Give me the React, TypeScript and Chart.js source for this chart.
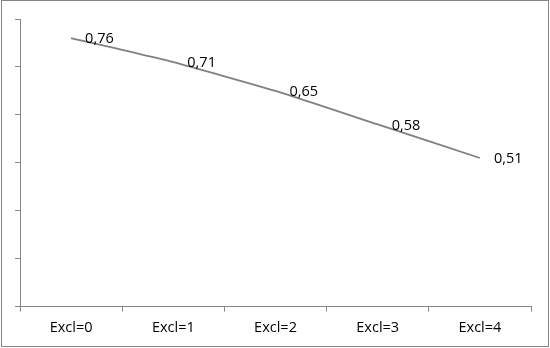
import React, { useEffect, useRef } from "react";
import { Chart, registerables } from "chart.js";

Chart.register(...registerables);

const categories = ["Excl=0", "Excl=1", "Excl=2", "Excl=3", "Excl=4"];
const values = [0.76, 0.71, 0.65, 0.58, 0.51];
const valueLabels = ["0,76", "0,71", "0,65", "0,58", "0,51"];
const yMin = 0.2;
const yMax = 0.8;
const yStep = 0.1;

const FONT = "'Open Sans', 'Noto Sans', sans-serif";

const labelPlugin = {
  id: "valueLabels",
  afterDatasetsDraw(chart: any) {
    const ctx = chart.ctx;
    const meta = chart.getDatasetMeta(0);
    ctx.save();
    ctx.font = `14.5px ${FONT}`;
    ctx.fillStyle = "#000000";
    ctx.textAlign = "left";
    ctx.textBaseline = "middle";
    meta.data.forEach((pt: any, i: number) => {
      ctx.fillText(valueLabels[i], pt.x + 14, pt.y + 1);
    });
    ctx.restore();
  },
};

export default function App() {
  const ref = useRef<HTMLCanvasElement | null>(null);
  useEffect(() => {
    if (!ref.current) return;
    const chart = new Chart(ref.current, {
      type: "line",
      data: {
        labels: categories,
        datasets: [
          {
            data: values,
            borderColor: "#808080",
            borderWidth: 1.8,
            pointRadius: 0,
            tension: 0.15,
            fill: false,
          },
        ],
      },
      options: {
        animation: false,
        responsive: false,
        maintainAspectRatio: false,
        layout: { padding: { left: 15, right: 19, top: 19, bottom: 3 } },
        plugins: { legend: { display: false }, tooltip: { enabled: false } },
        scales: {
          x: {
            type: "category",
            offset: true,
            grid: {
              offset: true,
              drawOnChartArea: false,
              drawTicks: true,
              tickLength: 5,
              color: "#868686",
            },
            border: { display: true, color: "#868686", width: 1 },
            ticks: {
              color: "#000000",
              font: { family: FONT, size: 14.5 },
              padding: 8,
              maxRotation: 0,
            },
          },
          y: {
            min: yMin,
            max: yMax,
            grid: {
              drawOnChartArea: false,
              drawTicks: true,
              tickLength: 5,
              color: "#868686",
            },
            border: { display: true, color: "#868686", width: 1 },
            ticks: { display: false, stepSize: yStep },
          },
        },
      },
      plugins: [labelPlugin],
    });
    return () => chart.destroy();
  }, []);
  return (
    <div
      style={{
        position: "fixed",
        left: 0,
        top: 0,
        width: 550,
        height: 348,
        background: "#ffffff",
      }}
    >
      <canvas ref={ref} width={550} height={348} style={{ position: "absolute", left: 0, top: 0 }} />
      <div
        style={{
          position: "absolute",
          left: 1,
          top: 0,
          width: 546,
          height: 345,
          border: "1px solid #868686",
          pointerEvents: "none",
        }}
      />
    </div>
  );
}
